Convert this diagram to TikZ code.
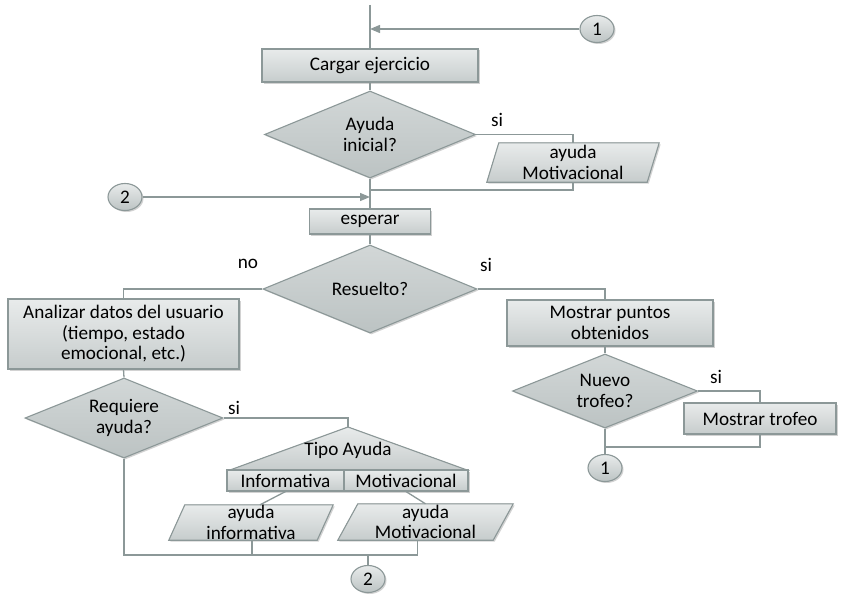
\documentclass[tikz,border=0pt]{standalone}
\usepackage{fontspec}
\setmainfont{Carlito}
\usetikzlibrary{shapes.geometric,shadows,arrows.meta,backgrounds}
\definecolor{edge}{HTML}{8C9898}
\definecolor{ftop}{HTML}{E8EBEB}
\definecolor{fmid}{HTML}{D8DCDC}
\definecolor{fbot}{HTML}{C6CCCC}
\definecolor{dtop}{HTML}{D2D7D7}
\definecolor{dbot}{HTML}{BCC3C3}
\tikzset{
  txt/.style={font=\fontsize{19.2}{20.5}\selectfont, text=black, align=center},
  shade3/.style={top color=ftop, bottom color=fbot, middle color=fmid},
  shadow/.style={drop shadow={shadow xshift=1.5pt, shadow yshift=-1.5pt, opacity=0.35, fill=gray}},
  boxnode/.style={txt, rectangle, draw=edge, line width=1.1pt, shade3, shadow, inner sep=2pt},
  decision/.style={txt, diamond, draw=edge, line width=1.1pt, top color=dtop, bottom color=dbot, shadow, inner sep=1pt},
  paratext/.style={txt, rectangle, inner sep=0pt},
  parafill/.style={draw=edge, line width=1.1pt, shade3, shadow},
  conn/.style={ellipse, txt, draw=edge, line width=1.1pt, top color=ftop, bottom color=dbot, shadow, minimum width=34pt, minimum height=27pt, inner sep=0pt},
  link/.style={draw=edge, line width=1.3pt},
  arr/.style={link, -{Triangle[length=10pt,width=8pt]}},
  lbl/.style={txt, inner sep=0pt},
}
\begin{document}
\begin{tikzpicture}[x=1pt,y=-1pt]
\useasboundingbox (0,0) rectangle (845,610);

% nodes
\node[boxnode, minimum width=216pt, minimum height=33pt] (cargar) at (370,65.5) {Cargar ejercicio};
\node[decision, minimum width=211pt, minimum height=87pt, shape aspect=2.4] (ayuda) at (370,134.5) {Ayuda\\inicial?};
\node[paratext, minimum width=160pt, minimum height=39pt] (pm) at (573,162.5) {ayuda\\Motivacional};
\node[boxnode, minimum width=121pt, minimum height=25pt] (esperar) at (370,221.5) {esperar};
\node[decision, minimum width=214pt, minimum height=88pt, shape aspect=2.4] (resuelto) at (370,289) {Resuelto?};
\node[boxnode, minimum width=231pt, minimum height=70pt] (analizar) at (123.5,334) {Analizar datos del usuario\\(tiempo, estado\\emocional, etc.)};
\node[decision, minimum width=198pt, minimum height=80pt, shape aspect=2.5] (requiere) at (124,418) {Requiere\\ayuda?};
\coordinate (tapex) at (348,427);
\coordinate (tbl) at (230,470);
\coordinate (tbr) at (467,470);
\fill[parafill] (tapex) -- (tbr) -- (tbl) -- cycle;
\node[lbl] (tipo) at (348,450) {Tipo Ayuda};
\node[boxnode, minimum width=117pt, minimum height=21pt, inner sep=0pt] (inf) at (285.5,480.5) {Informativa};
\node[boxnode, minimum width=124pt, minimum height=21pt, inner sep=0pt] (mot) at (406,480.5) {Motivacional};
\node[paratext, minimum width=148pt, minimum height=35pt] (ainf) at (251,522.5) {ayuda\\informativa};
\node[paratext, minimum width=155pt, minimum height=36pt] (amot) at (425.5,522) {ayuda\\Motivacional};
\node[boxnode, minimum width=206pt, minimum height=46pt] (mp) at (610,323) {Mostrar puntos\\obtenidos};
\node[decision, minimum width=185pt, minimum height=74pt, shape aspect=2.5, inner sep=0pt] (nt) at (605,391) {Nuevo\\trofeo?};
\node[boxnode, minimum width=152pt, minimum height=31pt] (mt) at (760,418.5) {Mostrar trofeo};
\node[conn] (c1t) at (597,29) {1};
\node[conn] (c2l) at (125,197) {2};
\node[conn] (c1b) at (605,468) {1};
\node[conn] (c2b) at (368,579) {2};

% white page and parallelogram outlines
\begin{scope}[on background layer]
\fill[white] (0,0) rectangle (845,610);
\fill[parafill] ([xshift=6pt]pm.north west) -- ([xshift=6pt]pm.north east) -- ([xshift=-6pt]pm.south east) -- ([xshift=-6pt]pm.south west) -- cycle;
\fill[parafill] ([xshift=8pt]ainf.north west) -- ([xshift=8pt]ainf.north east) -- ([xshift=-8pt]ainf.south east) -- ([xshift=-8pt]ainf.south west) -- cycle;
\fill[parafill] ([xshift=10pt]amot.north west) -- ([xshift=10pt]amot.north east) -- ([xshift=-10pt]amot.south east) -- ([xshift=-10pt]amot.south west) -- cycle;
\end{scope}

% labels
\node[lbl] (si1) at (497,120) {si};
\node[lbl] (no1) at (248,264) {no};
\node[lbl] (si2) at (486,265) {si};
\node[lbl] (si3) at (234,408) {si};
\node[lbl] (si4) at (716,377) {si};

% junction coordinates
\coordinate (top) at (370,5);
\coordinate (j1) at (370,29);
\coordinate (j2) at (370,190);
\coordinate (j3) at (370,197);
\coordinate (j4) at (605,447);
\coordinate (jb) at (368,555);

% connectors
\draw[link] (top) -- (cargar.north);
\draw[arr] (c1t.west) -- (j1);
\draw[link] (cargar.south) -- (ayuda.north);
\draw[link] (ayuda.east) -| (pm.north);
\draw[link] (pm.south) |- (j2);
\draw[link] (ayuda.south) -- (esperar.north);
\draw[arr] (c2l.east) -- (j3);
\draw[link] (esperar.south) -- (resuelto.north);
\draw[link] (resuelto.west) -| (analizar.north);
\draw[link] (resuelto.east) -| (nt.north |- mp.north);
\draw[link] (mp.south -| nt.north) -- (nt.north);
\draw[link] (nt.east) -| (mt.north);
\draw[link] (mt.south) |- (j4);
\draw[link] (nt.south) -- (c1b.north);
\draw[link] (analizar.south) -- (requiere.north);
\draw[link] (requiere.east) -| (tapex);
\draw[link] (inf.south) -- ([xshift=9pt]ainf.north);
\draw[link] (mot.south) -- (amot.north);
\draw[link] (requiere.south) |- (jb) -| ([xshift=-8pt]amot.south);
\draw[link] ([xshift=1pt]ainf.south) -- ([xshift=1pt]ainf.south |- jb);
\draw[link] (jb) -- (c2b.north);
\end{tikzpicture}
\end{document}
